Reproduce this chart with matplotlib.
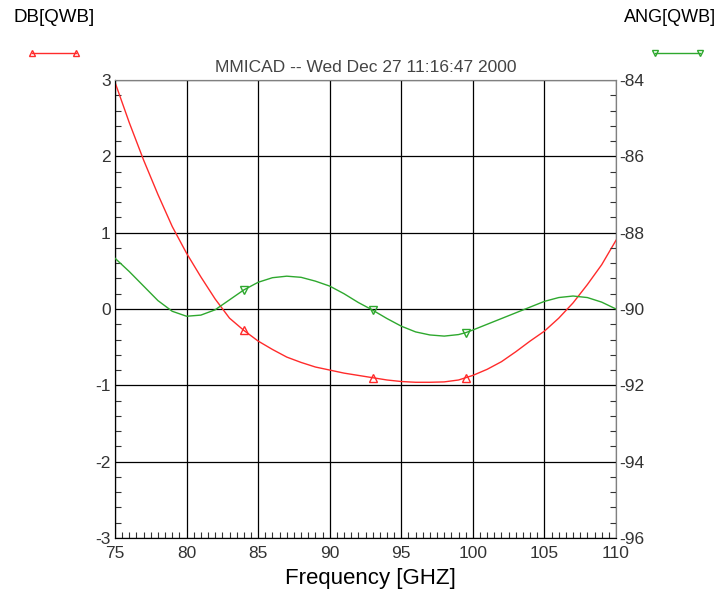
import matplotlib.pyplot as plt
from matplotlib.lines import Line2D
from matplotlib.ticker import MultipleLocator

plt.rcParams['font.family'] = ['Liberation Sans', 'DejaVu Sans']

# frequency points (GHz)
freq = [75, 76, 77, 78, 79, 80, 81, 82, 83, 84, 85, 86, 87, 88, 89, 90, 91, 92,
        93, 94, 95, 96, 97, 98, 99, 99.5, 100, 101, 102, 103, 104, 105, 106,
        107, 108, 109, 110]
# DB[QWB] - left axis
db = [2.97, 2.44, 1.95, 1.50, 1.08, 0.73, 0.42, 0.13, -0.12, -0.28, -0.42,
      -0.53, -0.63, -0.70, -0.76, -0.80, -0.84, -0.87, -0.90, -0.93, -0.95,
      -0.96, -0.96, -0.955, -0.93, -0.90, -0.87, -0.79, -0.69, -0.56, -0.42,
      -0.29, -0.12, 0.08, 0.32, 0.58, 0.90]
# ANG[QWB] - right axis
ang = [-88.67, -89.02, -89.40, -89.78, -90.06, -90.19, -90.16, -90.02, -89.76,
       -89.50, -89.30, -89.18, -89.14, -89.17, -89.27, -89.40, -89.60, -89.83,
       -90.03, -90.25, -90.45, -90.60, -90.68, -90.71, -90.67, -90.62, -90.55,
       -90.40, -90.25, -90.10, -89.95, -89.80, -89.70, -89.66, -89.70, -89.82,
       -90.00]
marker_idx = [9, 18, 25]  # 84, 93, 99.5 GHz

xticks = [75, 80, 85, 90, 95, 100, 105, 110]
yticks_l = [-3, -2, -1, 0, 1, 2, 3]
yticks_r = [-96, -94, -92, -90, -88, -86, -84]

red = '#ff2b2b'
green = '#2ea82e'

fig = plt.figure(figsize=(7.22, 5.94), dpi=100)
ax = fig.add_axes([115 / 722, 1 - 538 / 594, 501 / 722, 458 / 594])
ax2 = ax.twinx()

ax.plot(freq, db, color=red, lw=1.0, marker='^', markevery=marker_idx,
        markersize=6, markerfacecolor='none', markeredgecolor=red, zorder=3)
ax2.plot(freq, ang, color=green, lw=1.0, marker='v', markevery=marker_idx,
         markersize=6, markerfacecolor='none', markeredgecolor=green, zorder=3)

ax.set_xlim(75, 110)
ax.set_ylim(-3, 3)
ax2.set_ylim(-96, -84)
ax.set_xticks(xticks)
ax.set_yticks(yticks_l)
ax2.set_yticks(yticks_r)
ax.set_yticklabels([str(v) for v in yticks_l])
ax2.set_yticklabels([str(v) for v in yticks_r])
ax.xaxis.set_minor_locator(MultipleLocator(0.5))
ax.yaxis.set_minor_locator(MultipleLocator(0.2))
ax2.yaxis.set_minor_locator(MultipleLocator(0.4))

ax.grid(True, which='major', color='black', lw=0.9)
ax.tick_params(which='major', length=0, labelsize=12.5, labelcolor='#333333')
ax.tick_params(axis='x', which='major', pad=6)
ax.tick_params(axis='y', which='major', pad=3)
ax.tick_params(which='minor', direction='in', length=4, width=0.8, color='#333333')
ax.tick_params(axis='y', which='minor', right=False)
ax2.tick_params(which='major', length=0, labelsize=12.5, labelcolor='#333333', pad=2)
ax2.tick_params(which='minor', direction='in', length=4, width=0.8, color='#333333')

for a in (ax, ax2):
    a.spines['top'].set_color('#808080')
    a.spines['right'].set_color('#808080')
    a.spines['left'].set_color('black')
    a.spines['bottom'].set_color('black')

ax.set_xlabel('Frequency [GHZ]', fontsize=16, labelpad=3)
ax.xaxis.set_label_coords(0.51, -0.065)

fig.text(366 / 722, 1 - 67 / 594, 'MMICAD -- Wed Dec 27 11:16:47 2000',
         ha='center', va='center', fontsize=12.5, color='#444444')
fig.text(14 / 722, 1 - 18 / 594, 'DB[QWB]', ha='left', va='center', fontsize=13.5)
fig.text(716 / 722, 1 - 18 / 594, 'ANG[QWB]', ha='right', va='center', fontsize=13)

# legend samples
fig.add_artist(Line2D([32 / 722, 76 / 722], [1 - 53 / 594] * 2, color=red, lw=1,
                      marker='^', markersize=5, markerfacecolor='none',
                      transform=fig.transFigure))
fig.add_artist(Line2D([655 / 722, 700 / 722], [1 - 53 / 594] * 2, color=green, lw=1,
                      marker='v', markersize=5, markerfacecolor='none',
                      transform=fig.transFigure))

fig.savefig('out.png', dpi=100)
